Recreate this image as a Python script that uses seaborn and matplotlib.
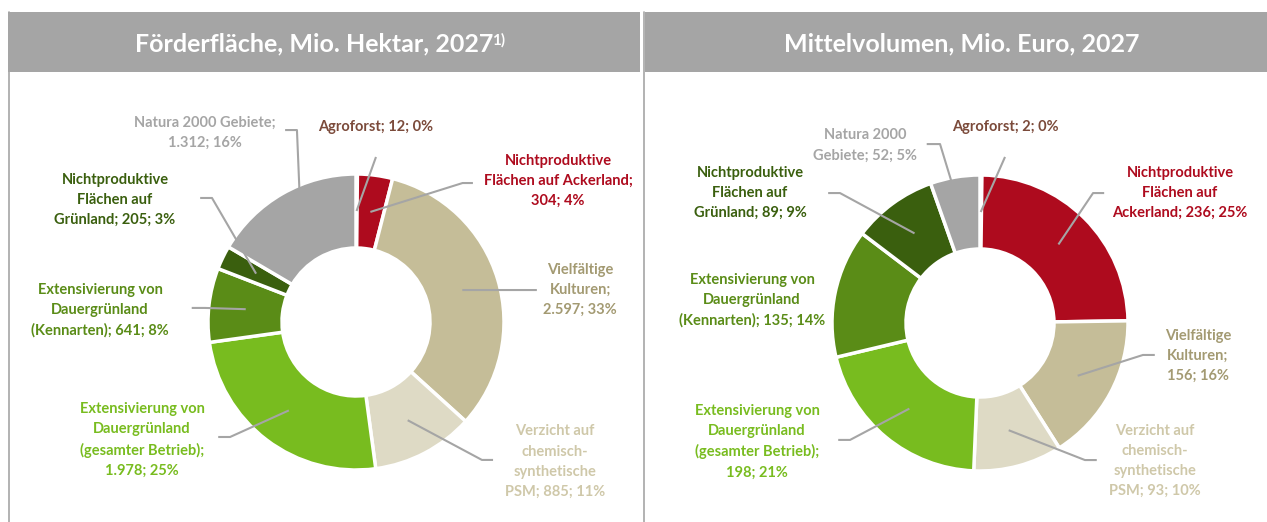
import numpy as np
import seaborn as sns
import matplotlib.pyplot as plt
from matplotlib.patches import Rectangle

# --- data -----------------------------------------------------------------
categories = ["Agroforst", "Nichtproduktive Flächen auf Ackerland", "Vielfältige Kulturen",
              "Verzicht auf chemisch-synthetische PSM", "Extensivierung von Dauergrünland (gesamter Betrieb)",
              "Extensivierung von Dauergrünland (Kennarten)", "Nichtproduktive Flächen auf Grünland",
              "Natura 2000 Gebiete"]

area_values = [12, 304, 2597, 885, 1978, 641, 205, 1312]
area_labels = ["Agroforst; 12; 0%",
               "Nichtproduktive\nFlächen auf Ackerland;\n304; 4%",
               "Vielfältige\nKulturen;\n2.597; 33%",
               "Verzicht auf\nchemisch-\nsynthetische\nPSM; 885; 11%",
               "Extensivierung von\nDauergrünland\n(gesamter Betrieb);\n1.978; 25%",
               "Extensivierung von\nDauergrünland\n(Kennarten); 641; 8%",
               "Nichtproduktive\nFlächen auf\nGrünland; 205; 3%",
               "Natura 2000 Gebiete;\n1.312; 16%"]

budget_values = [2, 236, 156, 93, 198, 135, 89, 52]
budget_labels = ["Agroforst; 2; 0%",
                 "Nichtproduktive\nFlächen auf\nAckerland; 236; 25%",
                 "Vielfältige\nKulturen;\n156; 16%",
                 "Verzicht auf\nchemisch-\nsynthetische\nPSM; 93; 10%",
                 "Extensivierung von\nDauergrünland\n(gesamter Betrieb);\n198; 21%",
                 "Extensivierung von\nDauergrünland\n(Kennarten); 135; 14%",
                 "Nichtproduktive\nFlächen auf\nGrünland; 89; 9%",
                 "Natura 2000\nGebiete; 52; 5%"]

titles = ["Förderfläche, Mio. Hektar, 2027", "Mittelvolumen, Mio. Euro, 2027"]
title_note = "1)"

# --- styles / layout ------------------------------------------------------
slice_colors = ["#7B4A3A", "#AE0B1E", "#C5BD98", "#DEDAC5", "#78BC1F", "#5A8C17", "#3A5F0E", "#A5A5A5"]
text_colors = ["#7B4A3A", "#AE0B1E", "#A39A72", "#CFC8A9", "#78BC1F", "#5A8C17", "#3A5F0E", "#A5A5A5"]
LINE_GRAY = "#A5A5A5"
HEADER_GRAY = "#A5A5A5"

# label centres and leader elbows (elbow x, elbow y, stub length), in donut radii
area_text_pos = [(0.13, 1.318), (1.365, 0.953), (1.514, 0.216), (1.345, -0.943),
                 (-1.446, -0.797), (-1.73, 0.081), (-1.628, 0.824), (-1.02, 1.277)]
area_elbows = [(0.135, 1.115, 0.0), (0.72, 0.939, 0.07), (1.142, 0.216, 0.08), (0.851, -0.932, 0.075),
               (-0.851, -0.777, -0.08), (-1.02, 0.095, -0.09), (-0.973, 0.838, -0.08), (-0.399, 1.297, -0.08)]

budget_text_pos = [(0.169, 1.324), (1.351, 0.878), (1.473, -0.223), (1.182, -0.932),
                   (-1.507, -0.80), (-1.54, 0.155), (-1.554, 0.878), (-0.777, 1.2)]
budget_elbows = [(0.169, 1.122, 0.0), (0.764, 0.878, 0.075), (1.101, -0.216, 0.08), (0.709, -0.926, 0.08),
                 (-0.878, -0.79, -0.08), None, (-0.946, 0.878, -0.08), (-0.27, 1.209, -0.09)]

W, H = 1267, 522
R_PX = 148.0

sns.set_theme(style="white")
plt.rcParams["font.family"] = ["Lato", "DejaVu Sans"]

fig = plt.figure(figsize=(W / 100, H / 100), dpi=100)


def px_axes(x0, x1, y0, y1):
    return fig.add_axes([x0 / W, 1 - y1 / H, (x1 - x0) / W, (y1 - y0) / H])


def draw_donut(ax, values, labels, text_pos, elbows, cx, cy, x0, x1, y0, y1):
    wedges, _ = ax.pie(values, colors=slice_colors, startangle=90, counterclock=False, radius=1,
                       wedgeprops=dict(width=0.5, edgecolor="white", linewidth=2.5))
    for w, label, (tx, ty), elbow, tc in zip(wedges, labels, text_pos, elbows, text_colors):
        ax.text(tx, ty, label, ha="center", va="center", color=tc, fontsize=10.5,
                fontweight="bold", linespacing=1.55)
        if elbow is None:
            continue
        mid = np.deg2rad((w.theta1 + w.theta2) / 2)
        ax0, ay0 = 0.75 * np.cos(mid), 0.75 * np.sin(mid)
        ex, ey, stub = elbow
        ax.plot([ax0, ex, ex + stub], [ay0, ey, ey], color=LINE_GRAY, lw=1.5,
                solid_capstyle="butt")
    ax.set_aspect("auto")
    ax.set_xlim((x0 - cx) / R_PX, (x1 - cx) / R_PX)
    ax.set_ylim((cy - y1) / R_PX, (cy - y0) / R_PX)
    ax.axis("off")


ax_left = px_axes(8, 640, 72, 522)
draw_donut(ax_left, area_values, area_labels, area_text_pos, area_elbows, 356, 322, 8, 640, 72, 522)
ax_right = px_axes(645, 1267, 72, 522)
draw_donut(ax_right, budget_values, budget_labels, budget_text_pos, budget_elbows, 980, 323, 645, 1267, 72, 522)

# header bands and panel borders
for hx0, hx1 in [(8, 640), (645, 1267)]:
    fig.add_artist(Rectangle((hx0 / W, 1 - 72 / H), (hx1 - hx0) / W, 60 / H,
                             transform=fig.transFigure, facecolor=HEADER_GRAY, edgecolor="none"))
for lx in [8.5, 643.5]:
    fig.add_artist(plt.Line2D([lx / W, lx / W], [0, 1 - 12 / H], transform=fig.transFigure,
                              color=LINE_GRAY, lw=1.2))

t_left = fig.text(314 / W, 1 - 44 / H, titles[0], ha="center", va="center", color="white",
                  fontsize=18, fontweight="bold")
fig.text(962 / W, 1 - 44 / H, titles[1], ha="center", va="center", color="white",
         fontsize=18, fontweight="bold")

fig.canvas.draw()
bb = t_left.get_window_extent().transformed(fig.transFigure.inverted())
fig.text(bb.x1 - 1 / W, bb.y1 - 1 / H, title_note, ha="left", va="top", color="white",
         fontsize=11, fontweight="bold")

fig.savefig("out.png", dpi=100)
